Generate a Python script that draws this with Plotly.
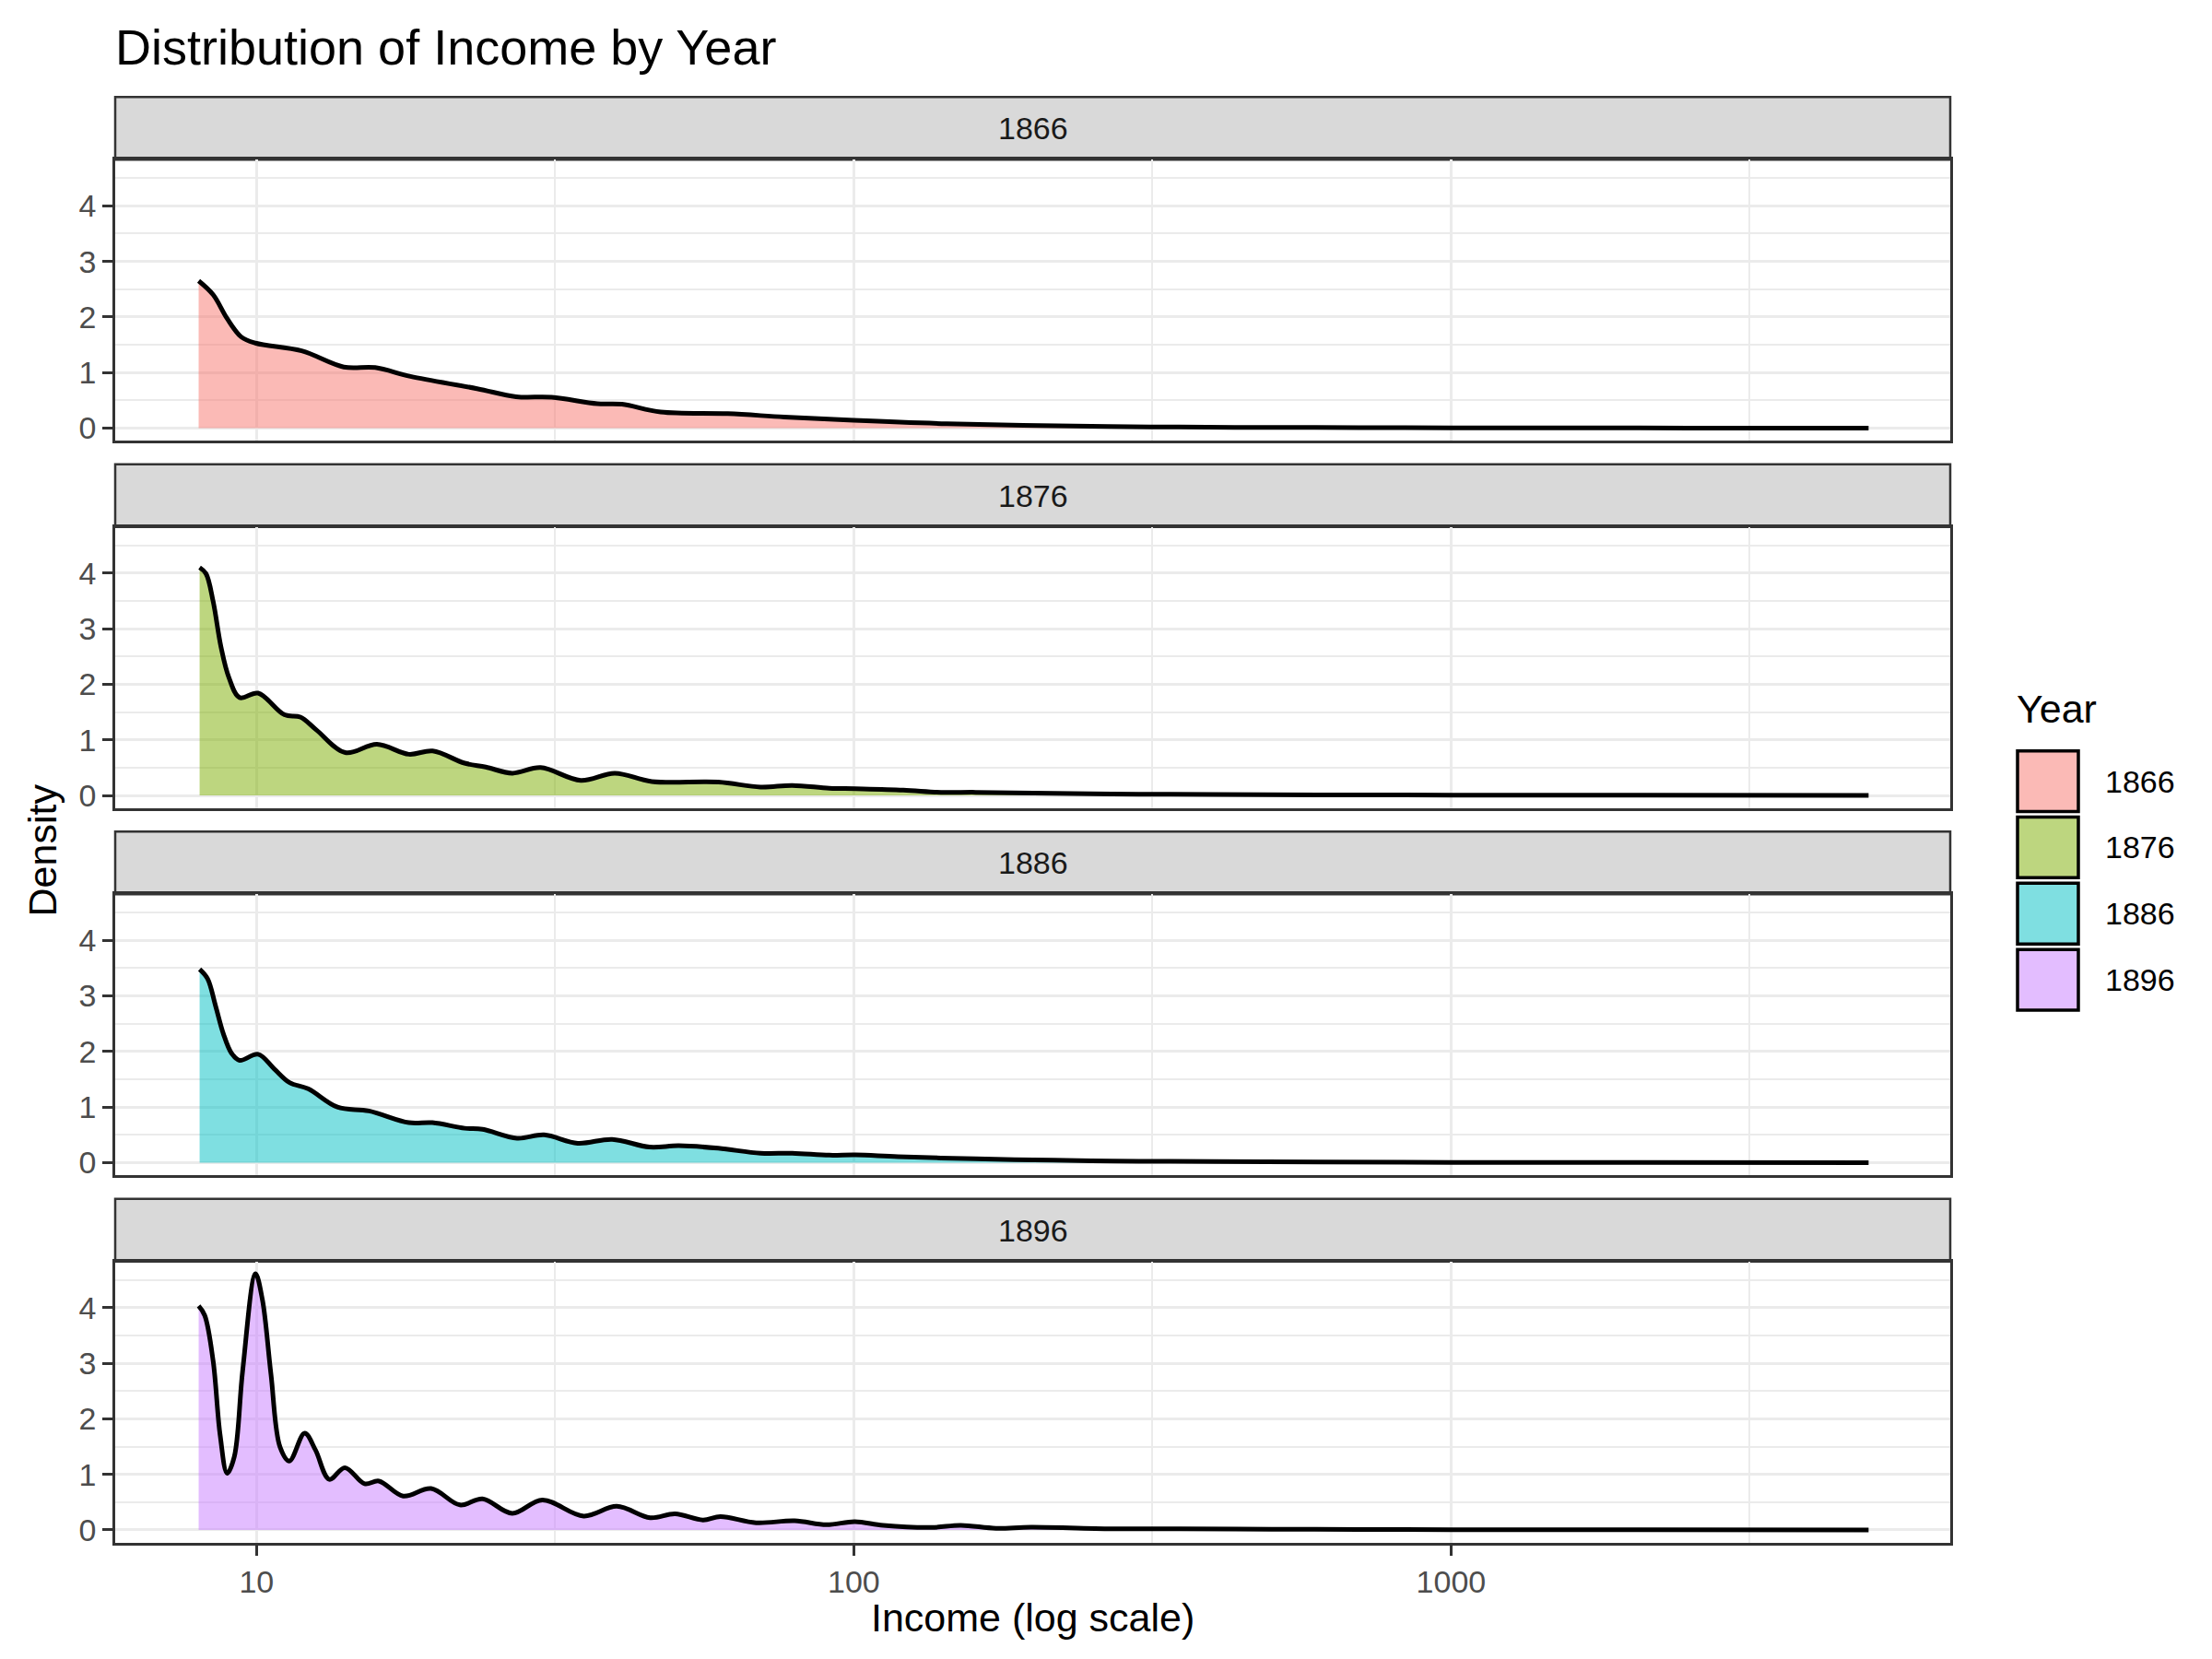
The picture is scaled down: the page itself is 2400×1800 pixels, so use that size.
import plotly.graph_objects as go

W, H = 2400, 1800

years = ["1866", "1876", "1886", "1896"]
colors = ["248,118,109", "124,174,0", "0,191,196", "199,124,255"]

x_1866 = [8.0, 8.46, 8.93, 9.43, 9.96, 11.9, 14.0, 15.8, 18.1, 23.4, 27.2, 31.2, 37.2, 40.9,
          47.5, 61.5, 76.5, 100, 143, 267, 350, 500, 700, 1000, 1500, 2500, 5000]
d_1866 = [2.65, 2.40, 1.97, 1.64, 1.53, 1.39, 1.10, 1.09, 0.93, 0.71, 0.565, 0.555, 0.44, 0.43,
          0.29, 0.26, 0.20, 0.14, 0.08, 0.03, 0.02, 0.012, 0.01, 0.006, 0.004, 0.002, 0.001]

x_1876 = [8.03, 8.23, 8.46, 8.72, 8.99, 9.37, 10.06, 11.14, 11.84, 12.59, 14.08, 15.91, 17.99,
          19.72, 22.3, 24.2, 26.8, 29.9, 34.9, 39.8, 45.9, 59.3, 69.8, 78.9, 91, 100.7, 121,
          140, 160, 200, 250, 300, 400, 600, 1000, 2000, 5000]
d_1876 = [4.10, 3.99, 3.49, 2.67, 2.12, 1.76, 1.84, 1.45, 1.41, 1.18, 0.77, 0.92, 0.74,
          0.80, 0.58, 0.51, 0.40, 0.50, 0.27, 0.40, 0.25, 0.24, 0.15, 0.18, 0.13, 0.12, 0.095,
          0.056, 0.056, 0.04, 0.03, 0.02, 0.018, 0.01, 0.005, 0.003, 0.001]

x_1886 = [8.03, 8.28, 8.54, 8.80, 9.08, 9.37, 10.06, 10.7, 11.36, 12.2, 13.66, 15.43, 17.99,
          19.7, 22.3, 23.9, 27.3, 30.3, 34.5, 39.4, 45.5, 50.9, 59.3, 69.8, 78.9, 91, 100.7,
          118.6, 160, 200, 250, 300, 400, 600, 1000, 2000, 5000]
d_1886 = [3.48, 3.31, 2.82, 2.32, 1.97, 1.84, 1.95, 1.69, 1.44, 1.33, 1.00, 0.93, 0.72,
          0.72, 0.62, 0.60, 0.44, 0.50, 0.35, 0.42, 0.28, 0.305, 0.26, 0.17, 0.17, 0.135, 0.14,
          0.107, 0.07, 0.05, 0.035, 0.025, 0.02, 0.012, 0.006, 0.003, 0.001]

x_1896 = [8.0, 8.19, 8.46, 8.69, 8.93, 9.18, 9.48, 9.96, 10.23, 10.57, 10.95, 11.35, 12.04,
          12.55, 13.24, 14.06, 15.17, 16.03, 17.6, 19.6, 21.9, 23.9, 26.8, 30.1, 35.3, 40.1,
          45.6, 50.2, 55.9, 59.8, 68.6, 79.6, 90, 100.4, 112, 135, 151, 173, 198, 274, 350,
          500, 700, 1000, 2000, 5000]
d_1896 = [4.03, 3.86, 3.04, 1.71, 1.02, 1.32, 2.87, 4.61, 4.14, 2.81, 1.49, 1.24, 1.74,
          1.44, 0.91, 1.12, 0.83, 0.88, 0.61, 0.745, 0.45, 0.56, 0.30, 0.54, 0.25, 0.425,
          0.22, 0.29, 0.18, 0.24, 0.13, 0.165, 0.094, 0.15, 0.083, 0.045, 0.083, 0.03, 0.05,
          0.02, 0.02, 0.012, 0.01, 0.006, 0.003, 0.001]

xs = [x_1866, x_1876, x_1886, x_1896]
ds = [d_1866, d_1876, d_1886, d_1896]

x_ticks = [10, 100, 1000]
x_minor = [31.6228, 316.228, 3162.28]
y_ticks = [0, 1, 2, 3, 4]

# layout geometry (pixels)
left, right = 117, 2108
strip_top0, strip_h, plot_h, pitch = 97.5, 68.2, 306.0, 399.6

def py(p):
    return 1 - p / H

def px(p):
    return p / W

fig = go.Figure()
shapes = []
annotations = []
FONT = "Liberation Sans, Arial, Helvetica, sans-serif"

for k in range(4):
    st = strip_top0 + pitch * k
    sb = st + strip_h
    pb = sb + plot_h
    xa = "xaxis" if k == 0 else f"xaxis{k+1}"
    ya = "yaxis" if k == 0 else f"yaxis{k+1}"
    xr = "x" if k == 0 else f"x{k+1}"
    yr = "y" if k == 0 else f"y{k+1}"
    bottom = (k == 3)
    fig.add_trace(go.Scatter(
        x=xs[k], y=ds[k], xaxis=xr, yaxis=yr, mode="lines",
        line=dict(color="black", width=5, shape="spline", smoothing=1.0),
        fill="tozeroy", fillcolor=f"rgba({colors[k]},0.5)", showlegend=False,
        hoverinfo="skip",
    ))
    fig.layout[xa] = dict(
        type="log", range=[0.7634, 3.8357], domain=[px(left), px(right)],
        anchor=yr, showgrid=True, gridcolor="#EBEBEB", gridwidth=3,
        tickvals=x_ticks, ticktext=[str(v) for v in x_ticks],
        showticklabels=bottom, ticks="outside" if bottom else "",
        ticklen=11, tickwidth=2.5, tickcolor="#333333",
        tickfont=dict(family=FONT, size=34, color="#4D4D4D"),
        minor=dict(tickvals=x_minor, showgrid=True, gridcolor="#EBEBEB", gridwidth=1.5, ticks=""),
        showline=True, mirror=True, linecolor="#333333", linewidth=2.5,
        zeroline=False, fixedrange=True,
    )
    fig.layout[ya] = dict(
        range=[-0.23, 4.83], domain=[py(pb), py(sb)], anchor=xr,
        showgrid=True, gridcolor="#EBEBEB", gridwidth=3,
        tickvals=y_ticks, ticktext=[str(v) for v in y_ticks],
        ticks="outside", ticklen=11, tickwidth=2.5, tickcolor="#333333",
        tickfont=dict(family=FONT, size=34, color="#4D4D4D"),
        minor=dict(tickvals=[0.5, 1.5, 2.5, 3.5, 4.5], showgrid=True,
                   gridcolor="#EBEBEB", gridwidth=1.5, ticks=""),
        showline=True, mirror=True, linecolor="#333333", linewidth=2.5,
        zeroline=False, fixedrange=True,
    )
    shapes.append(dict(type="rect", xref="paper", yref="paper",
                       x0=px(left), x1=px(right), y0=py(sb), y1=py(st),
                       fillcolor="#D9D9D9", line=dict(color="#333333", width=2.5), layer="below"))
    annotations.append(dict(text=years[k], xref="paper", yref="paper",
                            x=px((left + right) / 2), y=py((st + sb) / 2),
                            xanchor="center", yanchor="middle", showarrow=False,
                            font=dict(family=FONT, size=34, color="#1A1A1A")))

# legend (drawn)
annotations.append(dict(text="Year", xref="paper", yref="paper", x=px(2178), y=py(763),
                        xanchor="left", yanchor="middle", showarrow=False,
                        font=dict(family=FONT, size=43, color="black")))
for k in range(4):
    t = 809 + 72 * k
    shapes.append(dict(type="rect", xref="paper", yref="paper",
                       x0=px(2181), x1=px(2247), y0=py(t + 66), y1=py(t),
                       fillcolor=f"rgba({colors[k]},0.5)", line=dict(color="black", width=3.5)))
    annotations.append(dict(text=years[k], xref="paper", yref="paper", x=px(2274), y=py(t + 33),
                            xanchor="left", yanchor="middle", showarrow=False,
                            font=dict(family=FONT, size=34, color="black")))

# titles
annotations.append(dict(text="Distribution of Income by Year", xref="paper", yref="paper",
                        x=px(115), y=py(43), xanchor="left", yanchor="middle", showarrow=False,
                        font=dict(family=FONT, size=54, color="black")))
annotations.append(dict(text="Income (log scale)", xref="paper", yref="paper",
                        x=px((left + right) / 2), y=py(1752), xanchor="center", yanchor="middle",
                        showarrow=False, font=dict(family=FONT, size=43, color="black")))
annotations.append(dict(text="Density", xref="paper", yref="paper",
                        x=px(38), y=py(917), xanchor="center", yanchor="middle", textangle=-90,
                        showarrow=False, font=dict(family=FONT, size=43, color="black")))

fig.update_layout(
    width=W, height=H, margin=dict(l=0, r=0, t=0, b=0),
    paper_bgcolor="white", plot_bgcolor="white",
    shapes=shapes, annotations=annotations, showlegend=False,
)

fig.write_html("out.html")
